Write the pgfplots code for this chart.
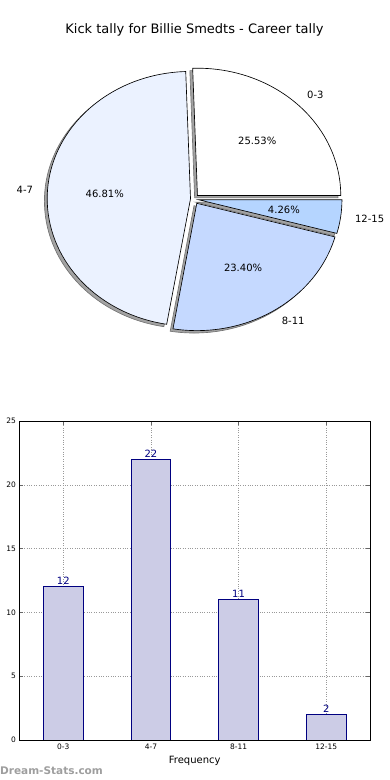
\documentclass[border=0pt]{standalone}
\usepackage{pgfplots}
\pgfplotsset{compat=1.18}
\usepackage{fontspec}
\setmainfont{DejaVu Sans}
\definecolor{barfill}{RGB}{204,204,230}
\definecolor{navyc}{RGB}{0,0,128}
\definecolor{sliceA}{RGB}{255,255,255}
\definecolor{sliceB}{RGB}{235,242,255}
\definecolor{sliceC}{RGB}{197,217,255}
\definecolor{sliceD}{RGB}{181,213,255}
\begin{document}
\begin{tikzpicture}[x=1pt,y=1pt]
\useasboundingbox (0pt,0pt) rectangle (390pt,780pt);
% ---- data ----
\def\vA{12}\def\vB{22}\def\vC{11}\def\vD{2}
\pgfmathsetmacro\tot{\vA+\vB+\vC+\vD}
\pgfmathsetmacro\eA{360*\vA/\tot}
\pgfmathsetmacro\eB{\eA+360*\vB/\tot}
\pgfmathsetmacro\eC{\eB+360*\vC/\tot}
\pgfmathsetmacro\mA{\eA/2}
\pgfmathsetmacro\mB{(\eA+\eB)/2}
\pgfmathsetmacro\mC{(\eB+\eC)/2}
\pgfmathsetmacro\mD{(\eC+360)/2}
\pgfmathsetmacro\pA{100*\vA/\tot}
\pgfmathsetmacro\pB{100*\vB/\tot}
\pgfmathsetmacro\pC{100*\vC/\tot}
\pgfmathsetmacro\pD{100*\vD/\tot}
% ---- pie geometry (pt) ----
\def\cx{194.6}\def\cy{580.9}\def\rx{143.3}\def\ry{127.3}\def\ea{4.1}\def\eb{5.0}
\def\shx{-2.8}\def\shy{-2.4}
\newcommand\slice[6]{% start,end,mid,fill,draw,shift
  \pgfmathsetmacro\Vx{\cx+\ea*cos(#3)}%
  \pgfmathsetmacro\Vy{\cy+\eb*sin(#3)}%
  \pgfmathsetmacro\Sx{\Vx+\rx*cos(#1)}%
  \pgfmathsetmacro\Sy{\Vy+\ry*sin(#1)}%
  \filldraw[fill=#4,draw=#5,line width=0.65pt,#6] (\Vx,\Vy) -- (\Sx,\Sy) arc[start angle=#1,end angle=#2,x radius=\rx pt,y radius=\ry pt] -- cycle;}
\newcommand\plabel[4]{% mid, anchor, text, pct
  \pgfmathsetmacro\Vx{\cx+\ea*cos(#1)}%
  \pgfmathsetmacro\Vy{\cy+\eb*sin(#1)}%
  \pgfmathsetmacro\Lx{\Vx+1.1*\rx*cos(#1)}%
  \pgfmathsetmacro\Ly{\Vy+1.1*\ry*sin(#1)}%
  \pgfmathsetmacro\Px{\Vx+0.6*\rx*cos(#1)}%
  \pgfmathsetmacro\Py{\Vy+0.6*\ry*sin(#1)}%
  \node[anchor=#2,inner sep=0pt,font=\fontsize{10}{12}\selectfont] at (\Lx,\Ly) {#3};
  \node[inner sep=0pt,font=\fontsize{10}{12}\selectfont] at (\Px,\Py) {\pgfmathprintnumber[fixed,fixed zerofill,precision=2,assume math mode=true]{#4}\%};}
\begin{axis}[at={(0pt,0pt)},anchor=south west,scale only axis,width=390pt,height=780pt,
  xmin=0,xmax=390,ymin=0,ymax=780,hide axis,clip=false]
\pgfplotsextra{%
  \slice{0}{\eA}{\mA}{black!36}{black!55}{xshift=\shx pt,yshift=\shy pt}
  \slice{\eA}{\eB}{\mB}{black!36}{black!55}{xshift=\shx pt,yshift=\shy pt}
  \slice{\eB}{\eC}{\mC}{black!36}{black!55}{xshift=\shx pt,yshift=\shy pt}
  \slice{\eC}{360}{\mD}{black!36}{black!55}{xshift=\shx pt,yshift=\shy pt}
  \slice{0}{\eA}{\mA}{sliceA}{black}{}
  \slice{\eA}{\eB}{\mB}{sliceB}{black}{}
  \slice{\eB}{\eC}{\mC}{sliceC}{black}{}
  \slice{\eC}{360}{\mD}{sliceD}{black}{}
  \plabel{\mA}{west}{0-3}{\pA}
  \plabel{\mB}{east}{4-7}{\pB}
  \plabel{\mC}{west}{8-11}{\pC}
  \plabel{\mD}{west}{12-15}{\pD}
  \node[font=\fontsize{13}{15}\selectfont] at (194.5,750) {Kick tally for Billie Smedts - Career tally};
}
\end{axis}
% ---- bar chart ----
\begin{axis}[at={(19.5pt,40pt)},anchor=south west,scale only axis,width=350.5pt,height=319pt,
  xmin=-0.5,xmax=3.5,ymin=0,ymax=25,
  xtick={0,1,2,3},xticklabels={0-3,4-7,8-11,12-15},ytick={0,5,10,15,20,25},
  grid=major,grid style={dotted,black!40,line width=0.6pt},
  tick align=inside,major tick length=4pt,tick style={black!60,line width=0.5pt},
  axis line style={black,line width=0.9pt},
  ticklabel style={font=\fontsize{7.5}{9}\selectfont},
  /pgf/number format/assume math mode=true,
  xlabel={Frequency},
  xlabel style={font=\fontsize{10}{12}\selectfont,at={(axis description cs:0.5,0)},anchor=center,yshift=-21pt}]
\addplot[ybar,bar width=0.45,fill=barfill,draw=navyc,line width=0.8pt,
  nodes near coords,nodes near coords style={font=\fontsize{10}{12}\selectfont,text=navyc,inner sep=1.5pt}]
  coordinates {(0,12) (1,22) (2,11) (3,2)};
\end{axis}
\node[anchor=west,inner sep=0pt,text=black!38,font=\bfseries\fontsize{10.5}{12}\selectfont] at (0pt,9pt) {Dream-Stats.com};
\end{tikzpicture}
\end{document}
